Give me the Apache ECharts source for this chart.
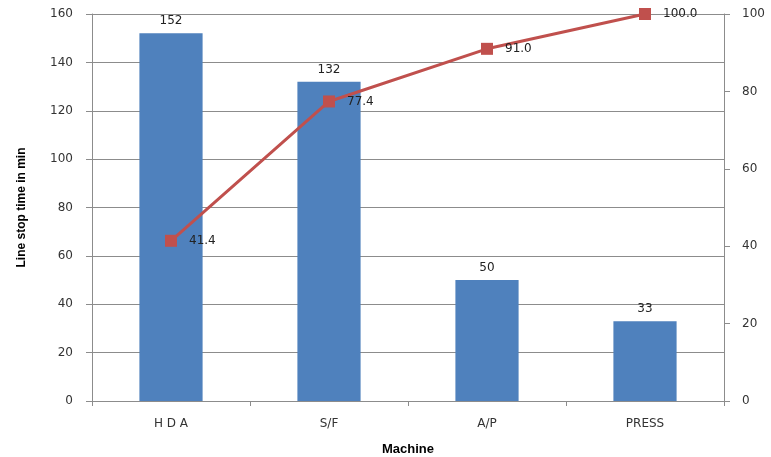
<!DOCTYPE html>
<html><head><meta charset="utf-8">
<script src="https://cdn.jsdelivr.net/npm/echarts@6/dist/echarts.min.js"></script>
<style>html,body{margin:0;padding:0;background:#fff;overflow:hidden}#c{width:771px;height:457px}</style>
</head><body><div id="c"></div>
<script>
const categories = ['H D A', 'S/F', 'A/P', 'PRESS'];
const stopTime = [152, 132, 50, 33];
const cumulativePct = [41.4, 77.4, 91.0, 100.0];
const leftTicks = [0, 20, 40, 60, 80, 100, 120, 140, 160];
const rightTicks = [0, 20, 40, 60, 80, 100];

const chart = echarts.init(document.getElementById('c'), null, {renderer: 'canvas'});
const tickFont = {fontFamily: 'DejaVu Sans', fontSize: 12, color: '#333'};
const nameFont = {fontFamily: 'Liberation Sans', fontWeight: 'bold', fontSize: 12, color: '#000'};
chart.setOption({
  animation: false,
  grid: {left: 92, right: 47, top: 14, bottom: 56, containLabel: false, outerBoundsMode: 'none'},
  xAxis: {
    type: 'category', data: categories, boundaryGap: true,
    name: 'Machine', nameLocation: 'middle', nameGap: 42,
    nameTextStyle: Object.assign({}, nameFont, {fontSize: 13}),
    axisLine: {lineStyle: {color: '#8c8c8c', width: 1}},
    axisTick: {show: true, alignWithLabel: false, length: 5, lineStyle: {color: '#8c8c8c'}},
    axisLabel: Object.assign({margin: 17}, tickFont)
  },
  yAxis: [{
    type: 'value', min: 0, max: 160, interval: 20,
    name: 'Line stop time in min', nameLocation: 'middle', nameGap: 64, nameRotate: 90,
    nameTextStyle: nameFont,
    axisLine: {show: true, lineStyle: {color: '#8c8c8c'}},
    axisTick: {show: true, length: 6, lineStyle: {color: '#8c8c8c'}},
    splitLine: {lineStyle: {color: '#8c8c8c', width: 1}},
    axisLabel: Object.assign({margin: 19, formatter: v => leftTicks.includes(v) ? String(v) : ''}, tickFont)
  }, {
    type: 'value', min: 0, max: 100, interval: 20,
    axisLine: {show: true, lineStyle: {color: '#8c8c8c'}},
    axisTick: {show: true, length: 6, lineStyle: {color: '#8c8c8c'}},
    splitLine: {show: false},
    axisLabel: Object.assign({margin: 18, formatter: v => rightTicks.includes(v) ? String(v) : ''}, tickFont)
  }],
  series: [{
    type: 'bar', data: stopTime, yAxisIndex: 0, barWidth: '40%',
    itemStyle: {color: '#4F81BD'},
    label: {show: true, position: 'top', distance: 6, fontFamily: 'DejaVu Sans', fontSize: 12, color: '#222'}
  }, {
    type: 'line', data: cumulativePct, yAxisIndex: 1,
    symbol: 'rect', symbolSize: 12,
    lineStyle: {color: '#C0504D', width: 3},
    itemStyle: {color: '#C0504D'},
    label: {show: true, position: 'right', distance: 12, formatter: p => p.value.toFixed(1),
      fontFamily: 'DejaVu Sans', fontSize: 12, color: '#222'}
  }]
});
</script></body></html>
